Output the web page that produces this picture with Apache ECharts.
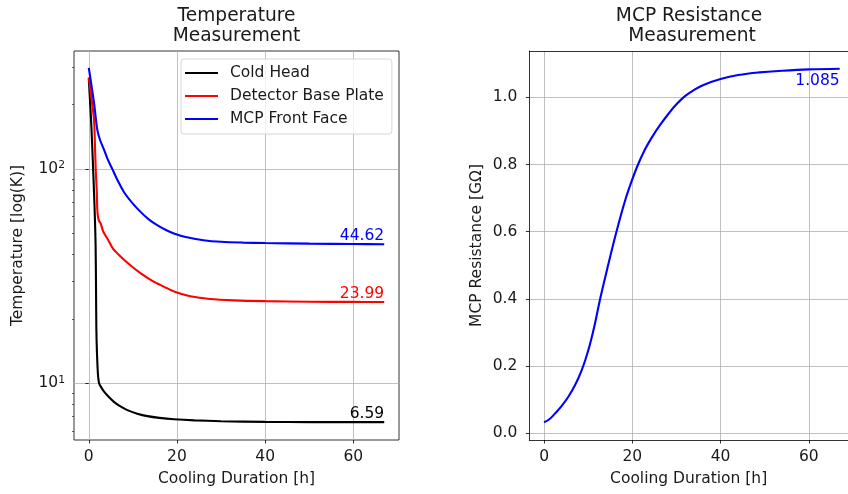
<!DOCTYPE html>
<html>
<head>
<meta charset="utf-8">
<script src="https://cdn.jsdelivr.net/npm/echarts@6/dist/echarts.min.js"></script>
<style>
  html, body { margin: 0; padding: 0; background: #fff; }
  #chart { width: 848px; height: 494px; }
</style>
</head>
<body>
<div id="chart"></div>
<script>
// left panel: temperatures [K] vs cooling time [h]
var coldTime = [0, 0.6, 1.2, 1.4, 1.55, 1.65, 1.72, 1.85, 2.0, 2.15, 2.35, 2.8, 3.47, 4.5, 5.7, 7, 8.75, 11, 13.3, 16, 19.3, 24, 30, 40, 50, 60, 67];
var coldHead = [265, 157, 77, 58, 44, 27, 18, 14, 11.8, 10.6, 10.0, 9.6, 9.14, 8.65, 8.2, 7.85, 7.5, 7.22, 7.03, 6.9, 6.8, 6.72, 6.66, 6.61, 6.59, 6.59, 6.59];

var plateTime = [0, 0.6, 1.2, 1.4, 1.58, 1.8, 1.95, 2.15, 2.4, 2.7, 3.3, 4.4, 5.5, 7.25, 9.5, 11.8, 14.5, 17, 19.8, 23, 27.5, 33, 40, 50, 60, 67];
var basePlate = [268, 215, 169, 130, 99, 80, 64, 59, 57, 55.8, 51, 46.7, 42.5, 39, 35.5, 32.6, 30, 28.3, 26.6, 25.5, 24.75, 24.4, 24.2, 24.05, 24.0, 23.99];

var faceTime = [0, 0.5, 1.2, 1.95, 2.6, 3.47, 4.3, 5.35, 6.5, 8, 9.8, 11.8, 13.6, 15.6, 17.5, 19.3, 22, 26, 30, 35, 40, 50, 60, 67];
var frontFace = [297, 255, 203, 152, 136, 123, 111, 100, 89, 78, 69.8, 63, 58.3, 54.6, 52, 50.1, 48.2, 46.6, 45.8, 45.4, 45.2, 44.9, 44.7, 44.62];

var tempNames = ['Cold Head', 'Detector Base Plate', 'MCP Front Face'];
var tempEndLabels = ['6.59', '23.99', '44.62'];

// right panel: MCP resistance [GOhm]
var resTime = [0, 1.2, 2.5, 4, 5.5, 7, 8.4, 9.5, 10.4, 11.5, 12.7, 14.5, 16.4, 18.3, 19.7, 21.2, 22.8, 24.4, 26.1, 28.2, 30, 32, 34, 36, 40, 44, 48.8, 54, 60, 67];
var resistance = [0.033, 0.042, 0.0595, 0.082, 0.109, 0.143, 0.184, 0.225, 0.265, 0.325, 0.4, 0.5, 0.6, 0.69, 0.745, 0.797, 0.843, 0.88, 0.914, 0.951, 0.979, 1.004, 1.022, 1.036, 1.054, 1.066, 1.074, 1.079, 1.083, 1.085];
var resEndLabel = '1.085';

var xTicks = [0, 20, 40, 60];
var logMajor = [10, 100];
var logMinor = [6, 7, 8, 9, 20, 30, 40, 50, 60, 70, 80, 90, 200, 300];
var resTicks = [0, 0.2, 0.4, 0.6, 0.8, 1.0];

function pairs(xs, ys) {
  var out = [];
  for (var i = 0; i < xs.length; i++) out.push([xs[i], ys[i]]);
  return out;
}

var txt = '#1a1a1a';
var fs = 15.5;
var gridLine = { show: true, lineStyle: { color: '#b0b0b0', width: 0.8 } };
var spine = { show: true, onZero: false, lineStyle: { color: '#000', width: 0.8 } };

function xAxisFor(gi, xmax, line) {
  return {
    gridIndex: gi, type: 'value', min: -3.35, max: xmax,
    axisLine: line ? spine : { show: false },
    axisTick: { show: true, customValues: xTicks, length: 3.5, lineStyle: { color: '#000', width: 0.8 } },
    axisLabel: { customValues: xTicks, margin: 9, fontSize: fs, color: txt },
    splitLine: gridLine,
    name: 'Cooling Duration [h]', nameLocation: 'middle', nameGap: 31,
    nameTextStyle: { fontSize: fs, color: txt }
  };
}

function tempSeries(name, xs, ys, color, label) {
  return {
    name: name, type: 'line', xAxisIndex: 0, yAxisIndex: 0,
    data: pairs(xs, ys), symbol: 'none', smooth: 0.3,
    lineStyle: { color: color, width: 2.1 }, itemStyle: { color: color },
    markPoint: {
      symbol: 'circle', symbolSize: 0, animation: false,
      data: [{ coord: [xs[xs.length - 1], ys[ys.length - 1]], value: label }],
      label: { show: true, position: [0, 0], align: 'right', verticalAlign: 'bottom',
               formatter: '{c}', color: color, fontSize: fs }
    }
  };
}

var chart = echarts.init(document.getElementById('chart'));
chart.setOption({
  animation: false,
  textStyle: { fontFamily: 'DejaVu Sans' },
  title: [
    { text: 'Temperature\nMeasurement', left: 236.5, top: 6, padding: 0, textAlign: 'center',
      textStyle: { fontSize: 18.6, fontWeight: 'normal', color: txt, lineHeight: 20 } },
    { text: 'MCP Resistance \nMeasurement', left: 692, top: 6, padding: 0, textAlign: 'center',
      textStyle: { fontSize: 18.6, fontWeight: 'normal', color: txt, lineHeight: 20 } }
  ],
  legend: {
    data: tempNames, orient: 'vertical', left: 181, top: 59,
    icon: 'path://M0,0H33V2.1H0Z',
    itemWidth: 33, itemHeight: 14, itemGap: 7, padding: [6, 8, 7, 4],
    backgroundColor: 'rgba(255,255,255,0.8)', borderColor: '#d6d6d6', borderWidth: 1, borderRadius: 3,
    textStyle: { fontSize: fs, color: txt, padding: [0, 0, 0, 7] }
  },
  grid: [
    { left: 74, top: 51, width: 325, height: 389, show: true, borderColor: '#000', borderWidth: 0.8, backgroundColor: 'transparent' },
    // right panel runs past the canvas edge; its right spine is not visible
    { left: 529.3, top: 51, width: 318.7, height: 389 }
  ],
  xAxis: [
    xAxisFor(0, 70.35, false),
    xAxisFor(1, 68.88, true),
    { gridIndex: 1, type: 'value', position: 'top', min: -3.35, max: 68.88, axisLine: spine,
      axisTick: { show: false }, axisLabel: { show: false }, splitLine: { show: false } }
  ],
  yAxis: [
    {
      gridIndex: 0, type: 'log', logBase: 10, min: 5.44, max: 356, position: 'left',
      axisLine: { show: false },
      axisTick: { show: true, customValues: logMajor, length: 3.5, lineStyle: { color: '#000', width: 0.8 } },
      axisLabel: {
        customValues: logMajor, margin: 9, color: txt,
        formatter: function (v) { return '{b|10}{s|' + Math.round(Math.log10(v)) + '}'; },
        rich: { b: { fontSize: fs, color: txt }, s: { fontSize: 10.8, color: txt, verticalAlign: 'bottom', padding: [0, 0, 7, 0] } }
      },
      splitLine: gridLine,
      name: 'Temperature [log(K)]', nameLocation: 'middle', nameGap: 48,
      nameTextStyle: { fontSize: fs, color: txt }
    },
    {
      gridIndex: 0, type: 'log', logBase: 10, min: 5.44, max: 356, position: 'left', offset: 0,
      axisLine: { show: false },
      axisTick: { show: true, customValues: logMinor, length: 2, lineStyle: { color: '#000', width: 0.6 } },
      axisLabel: { show: false },
      splitLine: { show: false }
    },
    {
      gridIndex: 1, type: 'value', min: -0.0196, max: 1.1376, position: 'left',
      axisLine: spine,
      axisTick: { show: true, customValues: resTicks, length: 3.5, lineStyle: { color: '#000', width: 0.8 } },
      axisLabel: { customValues: resTicks, margin: 12, fontSize: fs, color: txt,
                   formatter: function (v) { return v.toFixed(1); } },
      splitLine: gridLine,
      name: 'MCP Resistance [GΩ]', nameLocation: 'middle', nameGap: 44.5,
      nameTextStyle: { fontSize: fs, color: txt }
    }
  ],
  series: [
    tempSeries(tempNames[0], coldTime, coldHead, '#000000', tempEndLabels[0]),
    tempSeries(tempNames[1], plateTime, basePlate, '#ff0000', tempEndLabels[1]),
    tempSeries(tempNames[2], faceTime, frontFace, '#0000ff', tempEndLabels[2]),
    {
      name: 'MCP Resistance', type: 'line', xAxisIndex: 1, yAxisIndex: 2,
      data: pairs(resTime, resistance), symbol: 'none', smooth: 0.4,
      lineStyle: { color: '#0000ff', width: 2.1 }, itemStyle: { color: '#0000ff' },
      markPoint: {
        symbol: 'circle', symbolSize: 0, animation: false,
        data: [{ coord: [resTime[resTime.length - 1], resistance[resistance.length - 1]], value: resEndLabel }],
        label: { show: true, position: [0, 0], align: 'right', verticalAlign: 'top', offset: [0, 4],
                 formatter: '{c}', color: '#0000ff', fontSize: fs }
      }
    }
  ]
});
</script>
</body>
</html>
